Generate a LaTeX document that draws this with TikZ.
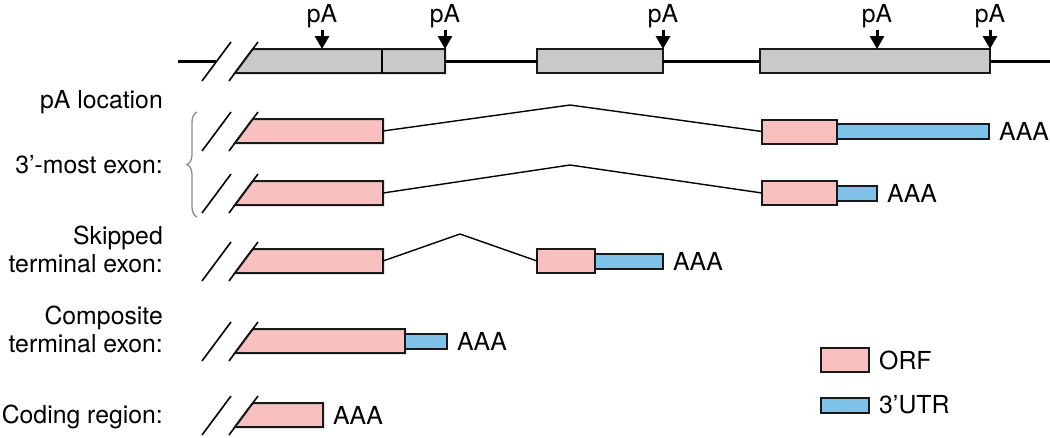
\documentclass[tikz,border=0pt]{standalone}
\usepackage{fontspec}
\setmainfont{TeX Gyre Heros}
\usetikzlibrary{positioning,arrows.meta,decorations.pathreplacing}

\definecolor{orfpink}{RGB}{249,192,192}
\definecolor{utrblue}{RGB}{126,193,233}
\definecolor{exongray}{RGB}{200,201,203}

\begin{document}
\begin{tikzpicture}[
x=1pt, y=-1pt,
node distance=10pt,
font=\fontsize{24.8}{28}\selectfont,
gene/.style={line width=3pt},
intron/.style={line width=1.4pt},
slash/.style={line width=1.6pt},
exon/.style={%
    rectangle, draw=black!90, line width=2pt, fill=exongray,
    minimum height=24pt, inner sep=0pt, outer sep=0pt, anchor=north west,
},
orf/.style={%
    exon, fill=orfpink,
},
utr/.style={%
    rectangle, draw=black!90, line width=2pt, fill=utrblue,
    minimum height=15pt, inner sep=0pt, outer sep=0pt, anchor=west,
},
cutexon/.style={draw=black!90, line width=2pt, fill=#1},
polya/.style={anchor=base, inner sep=0pt},
site/.style={line width=3pt, shorten <=2pt, -{Triangle[width=14pt,length=13pt]}},
polytail/.style={inner sep=0pt, right=of #1},
rowlabel/.style={anchor=base east, inner sep=0pt, align=right},
bracket/.style={draw=black!45, line width=1.3pt, decorate,
    decoration={brace, amplitude=10pt}},
]
\useasboundingbox (0,0) rectangle (1050,437);

% Gene
\coordinate (genestart) at (178,61);
\coordinate (cut)       at (216,61);
\coordinate (geneend)   at (1050,61);
\draw[slash] (202,81) -- (231,42);
\draw[slash] (229,81) -- (258,42);
\draw[cutexon=exongray] (235,73) -- (252.8,49) -- (445,49) -- (445,73) -- cycle;
\draw[line width=1.2pt] (382,49) -- (382,73);
\coordinate (ex1) at (445,61);
\node[exon, minimum width=126pt] at (537,49) (ex2) {};
\node[exon, minimum width=230pt] at (760,49) (ex3) {};

\draw[gene] (genestart) -- (cut);
\draw[gene] (ex1) -- (ex2.west);
\draw[gene] (ex2.east) -- (ex3.west);
\draw[gene] (ex3.east) -- (geneend);

% pA sites
\foreach \x [count=\i] in {322,445,663,877,990}{
    \node[polya] at (\x,22) (pa\i) {pA};
    \draw[site] (pa\i.south) -- (pa\i.south |- ex2.north);
}

% Labels
\node[rowlabel] at (163,108) (lbpa)   {pA location};
\node[rowlabel] at (163,173) (lbmost) {3’-most exon:};
\node[rowlabel] at (163,272) (lbskip) {Skipped\\terminal exon:};
\node[rowlabel] at (163,352) (lbcomp) {Composite\\terminal exon:};
\node[rowlabel] at (163,423) (lbcode) {Coding region:};
\draw[bracket] (197,217) -- (197,112);

% Cut exons
\foreach \n/\t/\r in {a/119/383, b/181/383, c/249/383, d/329/405, e/403/323}{
    \draw[slash] (202,\t+32) -- (231,\t-7);
    \draw[slash] (229,\t+32) -- (258,\t-7);
    \draw[cutexon=orfpink] (235,\t+24) -- (252.8,\t) -- (\r,\t) -- (\r,\t+24) -- cycle;
    \coordinate (\n) at (\r,\t+12);
}

% Terminal exons
\node[orf, minimum width=75pt]  at (762,119.5) (aorf) {};
\node[utr, minimum width=152pt] at (aorf.east) (autr) {};
\node[polytail=autr] (atail) {AAA};

\node[orf, minimum width=75pt]  at (762,181) (borf) {};
\node[utr, minimum width=40pt]  at (borf.east) (butr) {};
\node[polytail=butr] (btail) {AAA};

\node[orf, minimum width=58pt]  at (537,249) (corf) {};
\node[utr, minimum width=68pt]  at (corf.east) (cutr) {};
\node[polytail=cutr] (ctail) {AAA};

\node[utr, minimum width=42pt]  at (d) (dutr) {};
\node[polytail=dutr] (dtail) {AAA};

\node[polytail=e] (etail) {AAA};

% Introns
\coordinate (apeak) at (570,105);
\coordinate (bpeak) at (570,165);
\coordinate (cpeak) at (460,234);
\draw[intron] (a) -- (apeak) -- (aorf.west);
\draw[intron] (b) -- (bpeak) -- (borf.west);
\draw[intron] (c) -- (cpeak) -- (corf.west);

% Legend
\node[orf, minimum width=48pt] at (821,348) (legorf) {};
\node[inner sep=0pt, right=of legorf] (legorftext) {ORF};
\node[utr, minimum width=48pt] at (821,405) (legutr) {};
\node[inner sep=0pt, right=of legutr] (legutrtext) {3’UTR};
\end{tikzpicture}
\end{document}
